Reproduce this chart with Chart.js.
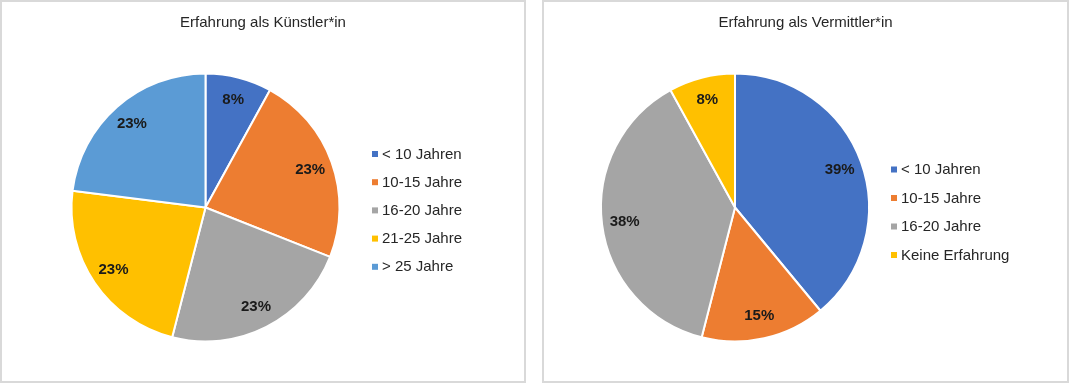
<!DOCTYPE html>
<html>
<head>
<meta charset="utf-8">
<script src="https://cdn.jsdelivr.net/npm/chart.js@4.4.1/dist/chart.umd.min.js"></script>
<style>
  html, body { margin: 0; padding: 0; background: #ffffff; }
  body { width: 1069px; height: 383px; position: relative; overflow: hidden; }
  canvas { position: absolute; top: 0; }
  .frame { position: absolute; top: 0; height: 383px; box-sizing: border-box; border: 2px solid #d9d9d9; pointer-events: none; }
</style>
</head>
<body>
<canvas id="c1" width="530" height="383" style="left:0px"></canvas>
<canvas id="c2" width="529" height="383" style="left:540px"></canvas>
<div class="frame" style="left:0px; width:526px;"></div>
<div class="frame" style="left:542px; width:527px;"></div>
<script>
// ---- data ----
const titleLeft = 'Erfahrung als Künstler*in';
const categoriesLeft = ['< 10 Jahren', '10-15 Jahre', '16-20 Jahre', '21-25 Jahre', '> 25 Jahre'];
const valuesLeft = [8, 23, 23, 23, 23];

const titleRight = 'Erfahrung als Vermittler*in';
const categoriesRight = ['< 10 Jahren', '10-15 Jahre', '16-20 Jahre', 'Keine Erfahrung'];
const valuesRight = [39, 15, 38, 8];

const colorsLeft = ['#4472C4', '#ED7D31', '#A5A5A5', '#FFC000', '#5B9BD5'];
const colorsRight = ['#4472C4', '#ED7D31', '#A5A5A5', '#FFC000'];

const FONT = '"Liberation Sans", Arial, sans-serif';

// custom plugin: title, legend and in-slice percentage labels
const decorPlugin = {
  id: 'decor',
  afterDraw(chart, args, opts) {
    const ctx = chart.ctx;
    ctx.save();
    // title
    ctx.fillStyle = '#262626';
    ctx.font = '15px ' + FONT;
    ctx.textAlign = 'center';
    ctx.textBaseline = 'middle';
    ctx.fillText(opts.title, opts.titleX, opts.titleY);

    // slice labels
    const meta = chart.getDatasetMeta(0);
    const ds = chart.data.datasets[0];
    ctx.font = 'bold 15px ' + FONT;
    ctx.fillStyle = '#1a1a1a';
    meta.data.forEach((arc, i) => {
      const p = arc.getProps(['x', 'y', 'startAngle', 'endAngle', 'outerRadius'], true);
      const mid = (p.startAngle + p.endAngle) / 2;
      const r = p.outerRadius * opts.labelFrac;
      const x = p.x + Math.cos(mid) * r;
      const y = p.y + Math.sin(mid) * r;
      ctx.fillText(ds.data[i] + '%', x, y);
    });

    // legend
    ctx.font = '15px ' + FONT;
    ctx.textAlign = 'left';
    chart.data.labels.forEach((lab, i) => {
      const y = opts.legendY + i * opts.legendStep;
      ctx.fillStyle = ds.backgroundColor[i];
      ctx.fillRect(opts.legendX, y - 3, 6, 6);
      ctx.fillStyle = '#262626';
      ctx.fillText(lab, opts.legendX + 10, y + 0.5);
    });
    ctx.restore();
  }
};

function makePie(id, labels, values, colors, W, H, cx, cy, R, decor) {
  const box = R + 6;
  return new Chart(document.getElementById(id), {
    type: 'pie',
    data: {
      labels: labels,
      datasets: [{
        data: values,
        backgroundColor: colors,
        borderColor: '#ffffff',
        borderWidth: 2
      }]
    },
    options: {
      responsive: false,
      animation: false,
      radius: R,
      layout: {
        padding: { left: cx - box, right: W - (cx + box), top: cy - box, bottom: H - (cy + box) }
      },
      plugins: {
        legend: { display: false },
        title: { display: false },
        tooltip: { enabled: false },
        decor: decor
      }
    },
    plugins: [decorPlugin]
  });
}

makePie('c1', categoriesLeft, valuesLeft, colorsLeft, 530, 383, 205.5, 207.5, 134, {
  title: titleLeft, titleX: 263, titleY: 23,
  labelFrac: 0.83, legendX: 372, legendY: 154, legendStep: 28.2
});
makePie('c2', categoriesRight, valuesRight, colorsRight, 529, 383, 195, 207.5, 134, {
  title: titleRight, titleX: 265.5, titleY: 23,
  labelFrac: 0.83, legendX: 351, legendY: 169.5, legendStep: 28.5
});
</script>
</body>
</html>
